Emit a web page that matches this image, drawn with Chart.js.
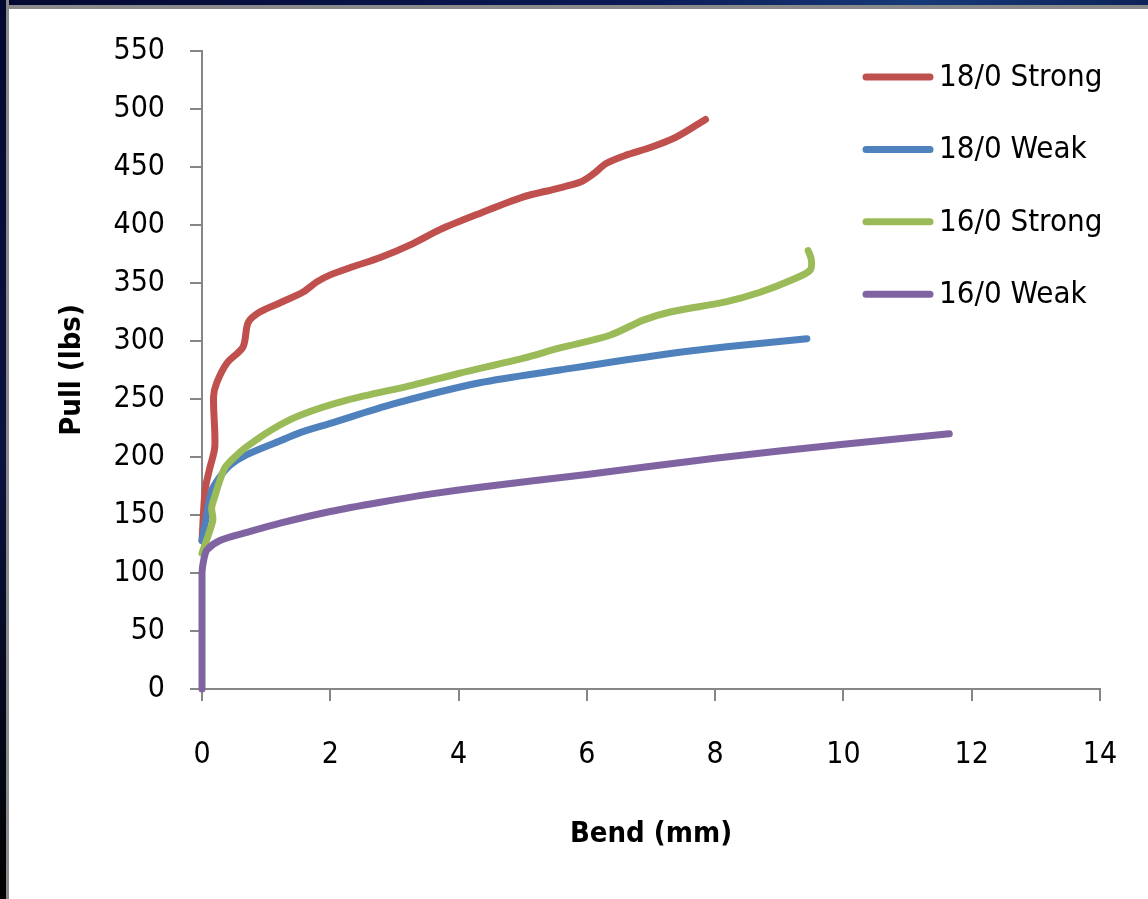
<!DOCTYPE html>
<html>
<head>
<meta charset="utf-8">
<title>Pull vs Bend</title>
<script src="https://cdn.jsdelivr.net/npm/chart.js@4.4.1/dist/chart.umd.min.js"></script>
<style>
  html, body { margin: 0; padding: 0; background: #fff; }
  #wrap { position: relative; width: 1148px; height: 899px; overflow: hidden; background: #fff; }
  #frameTop { position: absolute; left: 0; top: 0; width: 1148px; height: 5px;
    background: linear-gradient(90deg, #040830, #0a1a55 55%, #163a78 80%, #0c2258);
    border-bottom: 4px solid #8a8a8a; z-index: 2; }
  #frameLeft { position: absolute; left: 0; top: 0; width: 6px; height: 899px;
    background: linear-gradient(180deg, #040830, #0a1240 50%, #000 100%);
    border-right: 3px solid #8a8a8a; z-index: 2; }
  canvas { position: absolute; left: 0; top: 0; }
</style>
</head>
<body>
<div id="wrap">
  <canvas id="pullChart" width="1148" height="899"></canvas>
  <div id="frameTop"></div>
  <div id="frameLeft"></div>
</div>
<script>
// ---- data (bend in mm, pull in lbs) ----
const SERIES_LABELS = ['18/0 Strong', '18/0 Weak', '16/0 Strong', '16/0 Weak'];
const SERIES_COLORS = ['#C0504D', '#4F81BD', '#9BBB59', '#8064A2'];

const strong18Bend = [0, 0.05, 0.12, 0.2, 0.18, 0.23, 0.39, 0.64, 0.72, 0.9, 1.22, 1.57, 1.79, 2.0, 2.35, 2.78, 3.29, 3.71, 4.33, 5.0, 5.5, 5.9, 6.1, 6.3, 6.6, 7.0, 7.4, 7.85];
const strong18Pull = [128, 172, 190, 209, 252, 264, 281, 295, 316, 325, 333, 342, 351, 357, 364, 372, 384, 396, 410, 424, 431, 437, 444, 453, 460, 467, 476, 491];

const weak18Bend = [0, 0.08, 0.15, 0.28, 0.44, 0.7, 1.22, 1.53, 2.0, 3.0, 4.33, 5.58, 7.14, 8.18, 9.43];
const weak18Pull = [128, 152, 171, 183, 193, 202, 214, 221, 229, 246, 264, 275, 288, 295, 302];

const strong16Bend = [0, 0.1, 0.17, 0.15, 0.2, 0.28, 0.36, 0.49, 0.7, 1.1, 1.53, 2.26, 3.29, 4.0, 5.0, 5.58, 6.36, 6.88, 7.3, 8.18, 8.7, 9.21, 9.48, 9.5, 9.45];
const strong16Pull = [117, 133, 146, 156, 166, 180, 191, 199, 209, 224, 236, 249, 262, 272, 285, 294, 305, 318, 325, 334, 342, 353, 361, 370, 378];

const weak16Bend = [0, 0, 0.03, 0.08, 0.28, 0.7, 1.22, 2.0, 2.78, 3.55, 4.33, 6.0, 8.0, 10.0, 11.65];
const weak16Pull = [0, 100, 112, 120, 128, 135, 143, 153, 161, 168, 174, 185, 199, 211, 220];

const X_TICK_STEP = 2;   // 0 .. 14
const Y_TICK_STEP = 50;  // 0 .. 550

const FONT = "'Liberation Sans Narrow', 'DejaVu Sans Condensed', 'Open Sans', sans-serif";

const toPoints = (xs, ys) => xs.map((x, i) => ({ x, y: ys[i] }));

// legend drawn as a stacked list inside the plot, like the Excel original
const sideLegend = {
  id: 'sideLegend',
  afterDatasetsDraw(chart, args, opts) {
    const ctx = chart.ctx;
    ctx.save();
    chart.data.datasets.forEach((ds, i) => {
      const y = opts.top + i * opts.rowGap;
      ctx.strokeStyle = ds.borderColor;
      ctx.lineWidth = opts.lineWidth;
      ctx.lineCap = 'round';
      ctx.beginPath();
      ctx.moveTo(opts.left, y);
      ctx.lineTo(opts.left + opts.lineLength, y);
      ctx.stroke();
      ctx.fillStyle = '#000';
      ctx.font = opts.font;
      ctx.textBaseline = 'middle';
      ctx.fillText(ds.label, opts.left + opts.lineLength + opts.gap, y + 1);
    });
    ctx.restore();
  }
};

const seriesData = [
  toPoints(strong18Bend, strong18Pull),
  toPoints(weak18Bend, weak18Pull),
  toPoints(strong16Bend, strong16Pull),
  toPoints(weak16Bend, weak16Pull),
];

new Chart(document.getElementById('pullChart'), {
  type: 'scatter',
  data: {
    datasets: seriesData.map((pts, i) => ({
      label: SERIES_LABELS[i],
      data: pts,
      showLine: true,
      borderColor: SERIES_COLORS[i],
      backgroundColor: SERIES_COLORS[i],
      borderWidth: 7,
      borderCapStyle: 'round',
      borderJoinStyle: 'round',
      pointRadius: 0,
      tension: 0.3,
      clip: 8,
      order: SERIES_LABELS.length - i,   // later series on top, as in Excel
    })),
  },
  options: {
    responsive: false,
    animation: false,
    layout: { padding: { left: 55, top: 51, right: 48, bottom: 47 } },
    plugins: {
      legend: { display: false },
      tooltip: { enabled: false },
      sideLegend: {
        left: 866, lineLength: 64, gap: 9, top: 77, rowGap: 72.4, lineWidth: 7,
        font: "31px " + FONT,
      },
    },
    scales: {
      x: {
        type: 'linear',
        min: 0,
        max: 14,
        ticks: { stepSize: X_TICK_STEP, color: '#000', font: { family: FONT, size: 30 }, padding: 36 },
        grid: { drawOnChartArea: false, drawTicks: true, tickLength: 12, color: '#868686', lineWidth: 2 },
        border: { color: '#868686', width: 2 },
        title: {
          display: true, text: 'Bend (mm)', color: '#000', padding: 0,
          font: { family: FONT, size: 29, weight: 'bold' },
        },
        afterFit: s => { s.height = 163; s.paddingLeft = 0; s.paddingRight = 0; },
      },
      y: {
        type: 'linear',
        min: 0,
        max: 550,
        ticks: { stepSize: Y_TICK_STEP, color: '#000', font: { family: FONT, size: 30 }, padding: 25 },
        grid: { drawOnChartArea: false, drawTicks: true, tickLength: 12, color: '#868686', lineWidth: 2 },
        border: { color: '#868686', width: 2 },
        title: {
          display: true, text: 'Pull (lbs)', color: '#000', padding: 0,
          font: { family: FONT, size: 29, weight: 'bold' },
        },
        afterFit: s => { s.width = 147; },
      },
    },
  },
  plugins: [sideLegend],
});
</script>
</body>
</html>
